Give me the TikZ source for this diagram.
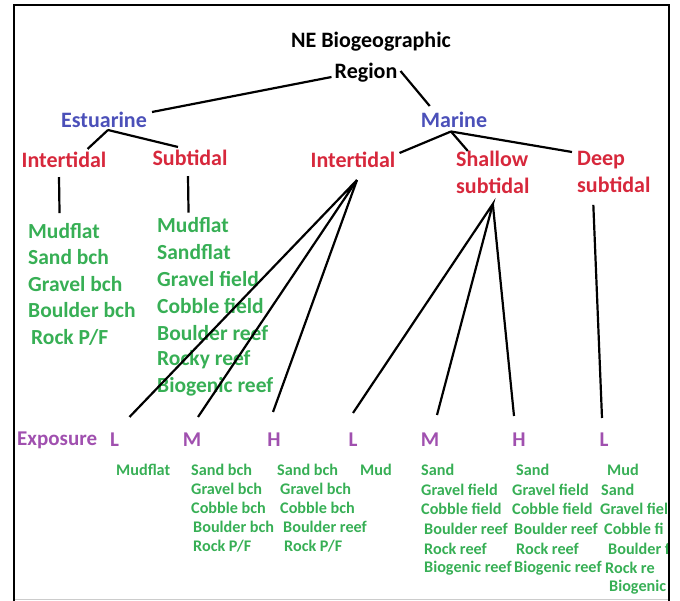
\documentclass[tikz,border=0pt]{standalone}
\usepackage{fontspec}
\setmainfont{Carlito}
\definecolor{sysblue}{RGB}{75,80,185}
\definecolor{habred}{RGB}{215,40,60}
\definecolor{habgreen}{RGB}{55,175,85}
\definecolor{exppurple}{RGB}{160,80,175}

\begin{document}
\begin{tikzpicture}[x=1pt,y=-1pt,
		conn/.style={line width=2.2pt},
		top/.style={inner sep=0pt,font=\fontsize{22}{27}\selectfont\bfseries},
		sys/.style={top,text=sysblue},
		hab/.style={top,text=habred},
		lst/.style={inner sep=0pt,anchor=west,text=habgreen,font=\fontsize{21.5}{26}\selectfont\bfseries},
		expo/.style={inner sep=0pt,text=exppurple,font=\fontsize{21}{24}\selectfont\bfseries},
		sml/.style={inner sep=0pt,anchor=west,text=habgreen,font=\fontsize{16.2}{19}\selectfont\bfseries}]
			\useasboundingbox (0,0) rectangle (680,601);
			\draw[gray!40,line width=1.5pt] (14,599.5) -- (669,599.5);
			\draw[line width=2.5pt] (14,601) -- (14,5) -- (669,5) -- (669,601);
			
			% region
			
			\node[top] (NE) at (371,42) {NE Biogeographic};
			\node[top] (R) at (366,73) {Region};
			\node[sys] (E) at (104,120) {Estuarine};
			\node[sys] (M) at (454,120) {Marine};
			\draw[conn] ([shift={(-3pt,-4pt)}]R.west) -- ([xshift=5pt]E.north east);
			\draw[conn] ([shift={(3pt,2pt)}]R.east) -- ([shift={(9pt,6pt)}]M.north west);
			
			% estuarine
			
			\node[hab] (IL) at (64,160) {Intertidal};
			\node[hab] (S) at (190,158) {Subtidal};
			\draw[conn] ([shift={(4pt,-2pt)}]E.south) -- ([shift={(-19pt,3pt)}]IL.north east);
			\draw[conn] ([shift={(4pt,-2pt)}]E.south) -- ([shift={(-12pt,3pt)}]S.north);
			\foreach \x/\lbl [count=\i] in {28/Mudflat,28/Sand bch,28/Gravel bch,28/Boulder bch,31/{Rock P/F}}
				\node[lst] (A\i) at (\x,{231+26.5*(\i-1)}) {\lbl};
			\foreach \lbl [count=\i] in {Mudflat,Sandflat,Gravel field,Cobble field,Boulder reef,Rocky reef,Biogenic reef}
				\node[lst] (B\i) at (157,{225+27*(\i-1)}) {\lbl};
			\draw[conn] ([shift={(-5pt,-9pt)}]IL.south) -- ([shift={(-4.5pt,10pt)}]A1.north);
			\draw[conn] ([shift={(-2pt,-10pt)}]S.south) -- ([shift={(-4.5pt,4.5pt)}]B1.north);
			
			% marine
			
			\node[hab] (IM) at (353,160) {Intertidal};
			\node[hab,align=left,anchor=north west] (SH) at (456,151) {Shallow\\subtidal};
			\node[hab,align=left,anchor=north west] (DP) at (577,151) {Deep\\subtidal};
			\draw[conn] ([shift={(-3pt,-3.5pt)}]M.south) -- ([shift={(4pt,-1pt)}]IM.north east);
			\draw[conn] ([shift={(-3pt,-3.5pt)}]M.south) -- ([xshift=-25pt]SH.north);
			\draw[conn] ([shift={(-3pt,-3.5pt)}]M.south) -- ([shift={(-5pt,-1pt)}]DP.north west);
			
			% exposure
			
			\node[expo,anchor=west] (X) at (17,440) {Exposure};
			\node[expo] (L1) at (114.5,440) {L};
			\node[expo] (M1) at (192,440) {M};
			\node[expo] (H1) at (274,440) {H};
			\node[expo] (L2) at (353,440) {L};
			\node[expo] (M2) at (430,440) {M};
			\node[expo] (H2) at (519,440) {H};
			\node[expo] (L3) at (604,440) {L};
			
			\draw[conn] ([shift={(15pt,16pt)}]L1.north) -- ([shift={(4pt,-12pt)}]IM.south) -- ([shift={(6pt,16pt)}]M1.north);
			\draw[conn] ([shift={(4pt,-12pt)}]IM.south) -- ([shift={(-1pt,21pt)}]H1.north);
			\draw[conn] ([yshift=20pt]L2.north) -- ([yshift=-10pt]SH.south) -- ([shift={(7pt,18pt)}]M2.north);
			\draw[conn] ([yshift=-10pt]SH.south) -- ([shift={(-5pt,17pt)}]H2.north);
			\draw[conn] ([shift={(-20.5pt,-12pt)}]DP.south) -- ([shift={(-2pt,15pt)}]L3.north);
			
			% habitats
			
			\node[sml] (C1) at (116,470) {Mudflat};
			\foreach \x/\lbl [count=\i] in {191/Sand bch,191/Gravel bch,191/Cobble bch,193/Boulder bch,193/{Rock P/F}}
				\node[sml] (D\i) at (\x,{470+19.1*(\i-1)}) {\lbl};
			\foreach \x/\lbl [count=\i] in {277/Sand bch,280/Gravel bch,280/Cobble bch,283/Boulder reef,284/{Rock P/F}}
				\node[sml] (F\i) at (\x,{470+19.1*(\i-1)}) {\lbl};
			\node[sml] (G1) at (360,470) {Mud};
			\foreach \x/\lbl [count=\i] in {421/Sand,421/Gravel field,421/Cobble field,424/Boulder reef,424/Rock reef,424/Biogenic reef}
				\node[sml] (J\i) at (\x,{470+19.6*(\i-1)}) {\lbl};
			\foreach \x/\lbl [count=\i] in {516/Sand,512/Gravel field,512/Cobble field,514/Boulder reef,516/Rock reef,514/Biogenic reef}
				\node[sml] (K\i) at (\x,{470+19.6*(\i-1)}) {\lbl};
			\begin{scope}
				\clip (14,0) rectangle (667.5,601);
				\foreach \x/\lbl [count=\i] in {607/Mud,601/Sand,600/Gravel fiel,604/Cobble fi,608/Boulder f,605/Rock re,609/Biogenic}
					\node[sml] (N\i) at (\x,{470+19.6*(\i-1)}) {\lbl};
			\end{scope}
		\end{tikzpicture}
\end{document}
